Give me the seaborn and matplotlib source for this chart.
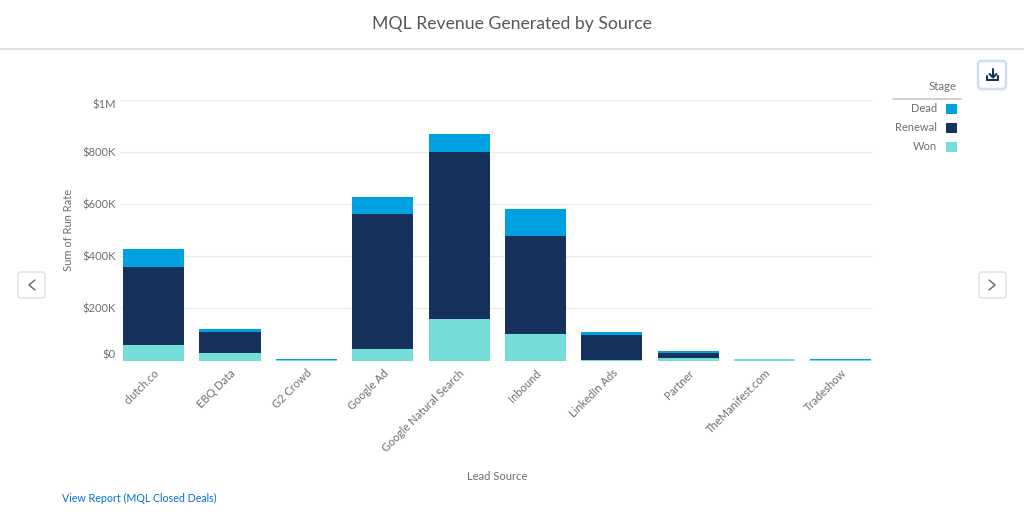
import matplotlib
matplotlib.use("Agg")
import matplotlib.pyplot as plt
from matplotlib.patches import FancyBboxPatch, Patch
import seaborn as sns
import numpy as np

sources = ["clutch.co", "EBQ Data", "G2 Crowd", "Google Ad", "Google Natural Search",
           "Inbound", "LinkedIn Ads", "Partner", "TheManifest.com", "Tradeshow"]
won = [58000, 30000, 2000, 44000, 158000, 100000, 1000, 10000, 4000, 1500]
renewal = [300000, 78000, 0, 520000, 642000, 379000, 97000, 20000, 0, 0]
dead = [70000, 12000, 2500, 65000, 70000, 104000, 10000, 6000, 0, 4000]
stages = ["Dead", "Renewal", "Won"]
stage_colors = ["#00A1E0", "#16325C", "#76DED9"]
y_ticks = [0, 200000, 400000, 600000, 800000, 1000000]
y_labels = ["$0", "$200K", "$400K", "$600K", "$800K", "$1M"]

W, H = 1024, 516
TXT = "#706E6B"
sns.set_theme(style="white")
plt.rcParams["font.family"] = ["Lato", "DejaVu Sans"]
plt.rcParams["text.parse_math"] = False

fig = plt.figure(figsize=(W / 100, H / 100), dpi=100, facecolor="white")
L, R, T, B = 120, 873, 100, 360.5
ax = fig.add_axes([L / W, 1 - B / H, (R - L) / W, (B - T) / H])

won_a, ren_a, dead_a = np.array(won), np.array(renewal), np.array(dead)
bar_kw = dict(width=0.8, saturation=1, ax=ax, zorder=3, linewidth=0)
sns.barplot(x=sources, y=won, color=stage_colors[2], **bar_kw)
sns.barplot(x=sources, y=renewal, bottom=won_a, color=stage_colors[1], **bar_kw)
sns.barplot(x=sources, y=dead, bottom=won_a + ren_a, color=stage_colors[0], **bar_kw)

ax.set_xlim(-0.44, 9.42)
ax.set_ylim(0, 1000000)
ax.set_yticks(y_ticks)
ax.set_yticklabels(y_labels)
ax.grid(axis="y", color="#ECEBEA", linewidth=1, zorder=0)
ax.grid(axis="x", visible=False)
sns.despine(ax=ax, left=True, bottom=True, top=True, right=True)
ax.tick_params(axis="y", length=0, pad=3, labelsize=8, labelcolor=TXT)
ax.tick_params(axis="x", length=0, pad=5, labelsize=8, labelcolor=TXT)
plt.setp(ax.get_xticklabels(), rotation=45, ha="right", rotation_mode="anchor")
# the outermost value labels sit inside the plot's height
ylabs = ax.get_yticklabels()
ylabs[0].set_verticalalignment("bottom")
ylabs[-1].set_verticalalignment("top")
ax.set_xlabel("")
ax.set_ylabel("")

handles = [Patch(facecolor=c, edgecolor="none", label=s) for s, c in zip(stages, stage_colors)]
leg = ax.legend(handles=handles, title="Stage", frameon=False, markerfirst=False, loc="upper right",
                bbox_to_anchor=(960 / W, 1 - 78 / H), bbox_transform=fig.transFigure,
                fontsize=8, title_fontsize=8.3, handlelength=1.0, handleheight=1.0,
                handletextpad=0.75, labelspacing=0.72, borderpad=0.3, borderaxespad=0,
                alignment="right", labelcolor=TXT)
leg.get_title().set_color(TXT)
leg._legend_box.sep = 8.0

# page chrome in pixel coordinates
ov = fig.add_axes([0, 0, 1, 1], zorder=5)
ov.set_xlim(0, W)
ov.set_ylim(H, 0)
ov.axis("off")
ov.patch.set_alpha(0)
ov.text(512, 24, "MQL Revenue Generated by Source", ha="center", va="center", fontsize=12.7, color="#54585C")
ov.plot([0, W], [48.5, 48.5], color="#D8DADC", lw=1.2)
ov.text(68, 230, "Sum of Run Rate", rotation=90, ha="center", va="center", fontsize=8, color=TXT)
ov.text(497, 476, "Lead Source", ha="center", va="center", fontsize=8, color=TXT)
ov.text(62, 498, "View Report (MQL Closed Deals)", ha="left", va="center", fontsize=7.7, color="#0070D2")
ov.plot([893, 961], [98.5, 98.5], color="#C9C7C5", lw=1.2)

def button(x0, y0, x1, y1, edge, lw):
    ov.add_patch(FancyBboxPatch((x0 + 3, y0 + 3), x1 - x0 - 6, y1 - y0 - 6, boxstyle="round,pad=3",
                                facecolor="white", edgecolor=edge, linewidth=lw))

button(18, 272, 45, 298, "#E0DFDD", 1)
ov.plot([35, 29, 35], [280, 285, 290], color="#706E6B", lw=1.1)
button(979, 272, 1006, 298, "#E0DFDD", 1)
ov.plot([989, 995, 989], [280, 285, 290], color="#706E6B", lw=1.1)
button(978, 61, 1006, 89, "#CCDFF2", 1.8)
navy = "#16325C"
ov.plot([993, 993], [69, 77], color=navy, lw=1.5)
ov.plot([989.5, 993, 996.5], [74, 77.5, 74], color=navy, lw=1.5)
ov.plot([987, 987, 998, 998], [76, 80, 80, 76], color=navy, lw=1.5)

fig.savefig("out.png", dpi=100)
